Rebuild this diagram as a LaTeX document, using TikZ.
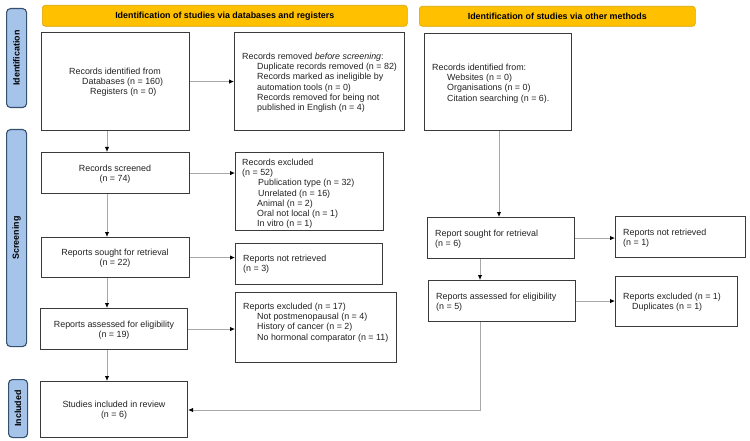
\documentclass[tikz,border=0pt]{standalone}
\usepackage{fontspec}
\setmainfont{Liberation Sans}
\usetikzlibrary{arrows.meta}
\definecolor{boxc}{HTML}{3A3A3A}
\definecolor{linec}{HTML}{A8A8A8}
\definecolor{yel}{HTML}{FFC000}
\definecolor{yelb}{HTML}{D9A300}
\definecolor{sideb}{HTML}{A6C4EA}
\definecolor{sidebd}{HTML}{34506F}
\definecolor{txtc}{HTML}{222222}
\newcommand\mylines[1]{\begin{tabular}[t]{@{}l@{}}#1\end{tabular}}
\newcommand\mycl[1]{\begin{tabular}[t]{@{}c@{}}#1\end{tabular}}
\newcommand\myind[1]{\hspace*{#1pt}}
\tikzset{
  box/.style={draw=boxc, line width=1.1pt, inner sep=0pt, anchor=north west, fill=white},
  side/.style={draw=sidebd, fill=sideb, line width=1.1pt, rounded corners=4pt, inner sep=0pt, anchor=north west},
  hdr/.style={draw=yelb, fill=yel, line width=0.6pt, rounded corners=3pt, inner sep=0pt, anchor=north west},
  txt/.style={inner sep=0pt, anchor=base west, text=txtc, font=\fontsize{8.9}{10.2}\selectfont},
  ctxt/.style={txt, anchor=base},
  btxt/.style={inner sep=0pt, text=black, font=\bfseries\fontsize{8.9}{10.2}\selectfont},
  conn/.style={draw=linec, line width=0.9pt},
  arr/.style={conn, -{Latex[length=5pt,width=4.5pt,black]}}
}
\begin{document}
\begin{tikzpicture}[x=1pt,y=-1pt]
\useasboundingbox (0,0) rectangle (750,441);
% side bars
\node[side, minimum width=20pt, minimum height=99pt] (idb) at (6,8) {};
\node[btxt, rotate=90] (idbt) at (idb.center) {Identification};
\node[side, minimum width=20pt, minimum height=217pt] (scb) at (6,129) {};
\node[btxt, rotate=90] (scbt) at (scb.center) {Screening};
\node[side, minimum width=19pt, minimum height=58pt] (icb) at (8,379) {};
\node[btxt, rotate=90] (icbt) at (icb.center) {Included};
% headers
\node[hdr, minimum width=365pt, minimum height=21pt] (h1) at (42,5) {};
\node[btxt] (h1t) at (h1.center) {Identification of studies via databases and registers};
\node[hdr, minimum width=276pt, minimum height=20pt] (h2) at (419,6) {};
\node[btxt] (h2t) at (h2.center) {Identification of studies via other methods};
% boxes
\node[box, minimum width=148pt, minimum height=98pt] (rid) at (41,32) {};
\node[box, minimum width=170pt, minimum height=98pt] (rem) at (234,32) {};
\node[box, minimum width=147pt, minimum height=97pt] (oth) at (424,33) {};
\node[box, minimum width=148pt, minimum height=41pt] (scr) at (41,152) {};
\node[box, minimum width=148pt, minimum height=78pt] (exc) at (235,152) {};
\node[box, minimum width=148pt, minimum height=40pt] (sgt) at (41,237) {};
\node[box, minimum width=147pt, minimum height=41pt] (nrt) at (235,243) {};
\node[box, minimum width=147pt, minimum height=41pt] (ass) at (40,308) {};
\node[box, minimum width=161pt, minimum height=70pt] (e17) at (235,292) {};
\node[box, minimum width=147pt, minimum height=56pt] (inc) at (40,381) {};
\node[box, minimum width=147pt, minimum height=41pt] (sg6) at (427,217) {};
\node[box, minimum width=130pt, minimum height=41pt] (nr1) at (615,216) {};
\node[box, minimum width=147pt, minimum height=41pt] (as5) at (428,280) {};
\node[box, minimum width=122pt, minimum height=50pt] (ex1) at (615,276) {};
% texts
\node[txt] (ridt) at (69,74.5) {\mylines{Records identified from\\ \myind{13}Databases (n = 160)\\ \myind{21}Registers (n = 0)}};
\node[txt] (remt) at (242,59.5) {\mylines{Records removed \textit{before screening}:\\ \myind{15}Duplicate records removed (n = 82)\\ \myind{15}Records marked as ineligible by\\ \myind{15}automation tools (n = 0)\\ \myind{15}Records removed for being not\\ \myind{15}published in English (n = 4)}};
\node[txt] (otht) at (432,70.5) {\mylines{Records identified from:\\ \myind{15}Websites (n = 0)\\ \myind{15}Organisations (n = 0)\\ \myind{15}Citation searching (n = 6).}};
\node[ctxt] (scrt) at (115,171.5) {\mycl{Records screened\\ (n = 74)}};
\node[txt] (exct) at (242,165.5) {\mylines{Records excluded\\ (n = 52)\\ \myind{16}Publication type (n = 32)\\ \myind{16}Unrelated (n = 16)\\ \myind{15}Animal (n = 2)\\ \myind{15}Oral not local (n = 1)\\ \myind{15}In vitro (n = 1)}};
\node[ctxt] (sgtt) at (115,255.5) {\mycl{Reports sought for retrieval\\ (n = 22)}};
\node[txt] (nrtt) at (243,261.5) {\mylines{Reports not retrieved\\ (n = 3)}};
\node[ctxt] (asst) at (114,327.5) {\mycl{Reports assessed for eligibility\\ (n = 19)}};
\node[txt] (e17t) at (243,309.5) {\mylines{Reports excluded (n = 17)\\ \myind{14}Not postmenopausal (n = 4)\\ \myind{14}History of cancer (n = 2)\\ \myind{14}No hormonal comparator (n = 11)}};
\node[ctxt] (inct) at (114,407.5) {\mycl{Studies included in review\\ (n = 6)}};
\node[txt] (sg6t) at (435,236.5) {\mylines{Report sought for retrieval\\ (n = 6)}};
\node[txt] (nr1t) at (623,235.5) {\mylines{Reports not retrieved\\ (n = 1)}};
\node[txt] (as5t) at (436,299.5) {\mylines{Reports assessed for eligibility\\ (n = 5)}};
\node[txt] (ex1t) at (623,299.5) {\mylines{Reports excluded (n = 1)\\ \myind{9}Duplicates (n = 1)}};
% connector guide coordinates
\coordinate (lx) at (107,0);
\coordinate (rx) at (499,0);
\coordinate (cx) at (480,0);
\coordinate (by) at (0,410);
% connectors
\draw[arr] (rid.east) -- (rid.east -| rem.west);
\draw[arr] (scr.east) -- (scr.east -| exc.west);
\draw[arr] (sgt.east) -- (sgt.east -| nrt.west);
\draw[arr] (ass.east) -- (ass.east -| e17.west);
\draw[arr] (rid.south -| lx) -- (scr.north -| lx);
\draw[arr] (scr.south -| lx) -- (sgt.north -| lx);
\draw[arr] (sgt.south -| lx) -- (ass.north -| lx);
\draw[arr] (ass.south -| lx) -- (inc.north -| lx);
\draw[arr] (oth.south -| rx) -- (sg6.north -| rx);
\draw[arr] (sg6.east) -- (sg6.east -| nr1.west);
\draw[arr] (sg6.south -| cx) -- (as5.north -| cx);
\draw[arr] (as5.east) -- (as5.east -| ex1.west);
\draw[arr] (as5.south -| cx) -- (cx |- by) -- (by -| inc.east);
\end{tikzpicture}
\end{document}
